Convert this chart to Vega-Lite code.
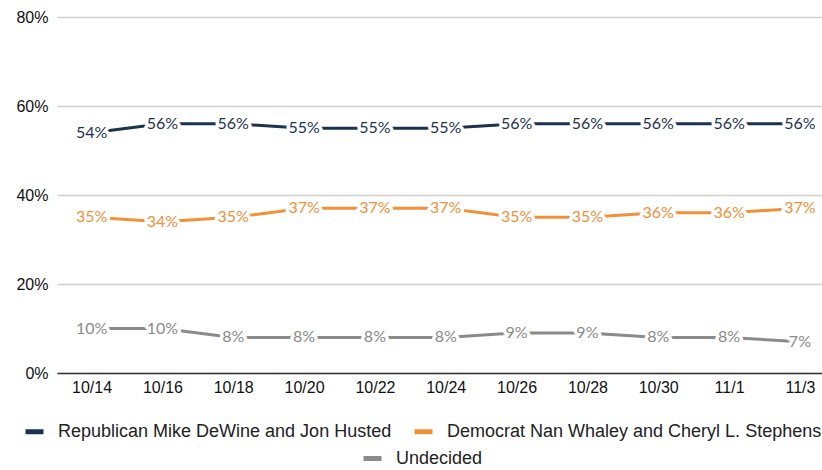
{
  "$schema": "https://vega.github.io/schema/vega-lite/v6.json",
  "width": 765,
  "height": 356,
  "autosize": "none",
  "padding": {"left": 57, "top": 17, "right": 0, "bottom": 97},
  "background": "white",
  "config": {
    "view": {"stroke": null},
    "font": "Liberation Sans",
    "axis": {"labelFont": "Liberation Sans", "labelFontSize": 16, "labelColor": "#111111", "title": null}
  },
  "data": {
    "values": [
      {"date": "10/14", "series": "Republican Mike DeWine and Jon Husted", "value": 0.54},
      {"date": "10/16", "series": "Republican Mike DeWine and Jon Husted", "value": 0.56},
      {"date": "10/18", "series": "Republican Mike DeWine and Jon Husted", "value": 0.56},
      {"date": "10/20", "series": "Republican Mike DeWine and Jon Husted", "value": 0.55},
      {"date": "10/22", "series": "Republican Mike DeWine and Jon Husted", "value": 0.55},
      {"date": "10/24", "series": "Republican Mike DeWine and Jon Husted", "value": 0.55},
      {"date": "10/26", "series": "Republican Mike DeWine and Jon Husted", "value": 0.56},
      {"date": "10/28", "series": "Republican Mike DeWine and Jon Husted", "value": 0.56},
      {"date": "10/30", "series": "Republican Mike DeWine and Jon Husted", "value": 0.56},
      {"date": "11/1", "series": "Republican Mike DeWine and Jon Husted", "value": 0.56},
      {"date": "11/3", "series": "Republican Mike DeWine and Jon Husted", "value": 0.56},
      {"date": "10/14", "series": "Democrat Nan Whaley and Cheryl L. Stephens", "value": 0.35},
      {"date": "10/16", "series": "Democrat Nan Whaley and Cheryl L. Stephens", "value": 0.34},
      {"date": "10/18", "series": "Democrat Nan Whaley and Cheryl L. Stephens", "value": 0.35},
      {"date": "10/20", "series": "Democrat Nan Whaley and Cheryl L. Stephens", "value": 0.37},
      {"date": "10/22", "series": "Democrat Nan Whaley and Cheryl L. Stephens", "value": 0.37},
      {"date": "10/24", "series": "Democrat Nan Whaley and Cheryl L. Stephens", "value": 0.37},
      {"date": "10/26", "series": "Democrat Nan Whaley and Cheryl L. Stephens", "value": 0.35},
      {"date": "10/28", "series": "Democrat Nan Whaley and Cheryl L. Stephens", "value": 0.35},
      {"date": "10/30", "series": "Democrat Nan Whaley and Cheryl L. Stephens", "value": 0.36},
      {"date": "11/1", "series": "Democrat Nan Whaley and Cheryl L. Stephens", "value": 0.36},
      {"date": "11/3", "series": "Democrat Nan Whaley and Cheryl L. Stephens", "value": 0.37},
      {"date": "10/14", "series": "Undecided", "value": 0.10},
      {"date": "10/16", "series": "Undecided", "value": 0.10},
      {"date": "10/18", "series": "Undecided", "value": 0.08},
      {"date": "10/20", "series": "Undecided", "value": 0.08},
      {"date": "10/22", "series": "Undecided", "value": 0.08},
      {"date": "10/24", "series": "Undecided", "value": 0.08},
      {"date": "10/26", "series": "Undecided", "value": 0.09},
      {"date": "10/28", "series": "Undecided", "value": 0.09},
      {"date": "10/30", "series": "Undecided", "value": 0.08},
      {"date": "11/1", "series": "Undecided", "value": 0.08},
      {"date": "11/3", "series": "Undecided", "value": 0.07}
    ]
  },
  "encoding": {
    "x": {
      "field": "date", "type": "ordinal", "sort": null,
      "scale": {"type": "point", "padding": 0.4, "align": 0.61},
      "axis": {"labelAngle": 0, "ticks": false, "domain": true, "domainColor": "#333333", "domainWidth": 1.5, "labelPadding": 6, "grid": false}
    },
    "y": {
      "field": "value", "type": "quantitative",
      "scale": {"domain": [0, 0.8]},
      "axis": {"format": ".0%", "values": [0, 0.2, 0.4, 0.6, 0.8], "ticks": false, "domain": false, "gridColor": "#d0d0d0", "gridWidth": 1.5, "labelPadding": 9}
    }
  },
  "layer": [
    {
      "transform": [{"filter": "datum.series !== 'Undecided'"}],
      "encoding": {
        "color": {
          "field": "series", "type": "nominal", "sort": null,
          "scale": {"domain": ["Republican Mike DeWine and Jon Husted", "Democrat Nan Whaley and Cheryl L. Stephens"], "range": ["#1b3350", "#f0913a"]},
          "legend": {"title": null, "orient": "none", "legendX": -34, "legendY": 403, "direction": "horizontal", "symbolType": "stroke", "symbolSize": 324, "symbolStrokeWidth": 5, "labelFont": "Liberation Sans", "labelFontSize": 18, "labelColor": "#222222", "labelLimit": 0, "columnPadding": 12, "labelOffset": 12, "padding": 0}
        }
      },
      "layer": [
        {"mark": {"type": "line", "strokeWidth": 3}},
        {"mark": {"type": "text", "font": "Lato", "fontSize": 16, "stroke": "white", "strokeWidth": 7, "strokeJoin": "round", "fill": "white"}, "encoding": {"text": {"field": "value", "format": ".0%"}, "color": {"value": "white"}}},
        {"mark": {"type": "text", "font": "Lato", "fontSize": 16}, "encoding": {"text": {"field": "value", "format": ".0%"}}}
      ]
    },
    {
      "transform": [{"filter": "datum.series === 'Undecided'"}],
      "encoding": {
        "color": {
          "field": "series", "type": "nominal",
          "scale": {"domain": ["Undecided"], "range": ["#8a8a8a"]},
          "legend": {"title": null, "orient": "none", "legendX": 304, "legendY": 430, "direction": "horizontal", "symbolType": "stroke", "symbolSize": 324, "symbolStrokeWidth": 5, "labelFont": "Liberation Sans", "labelFontSize": 18, "labelColor": "#222222", "labelLimit": 0, "labelOffset": 12, "padding": 0}
        }
      },
      "layer": [
        {"mark": {"type": "line", "strokeWidth": 3}},
        {"mark": {"type": "text", "font": "Lato", "fontSize": 16, "stroke": "white", "strokeWidth": 7, "strokeJoin": "round", "fill": "white"}, "encoding": {"text": {"field": "value", "format": ".0%"}, "color": {"value": "white"}}},
        {"mark": {"type": "text", "font": "Lato", "fontSize": 16}, "encoding": {"text": {"field": "value", "format": ".0%"}}}
      ]
    }
  ],
  "resolve": {"scale": {"color": "independent"}}
}
